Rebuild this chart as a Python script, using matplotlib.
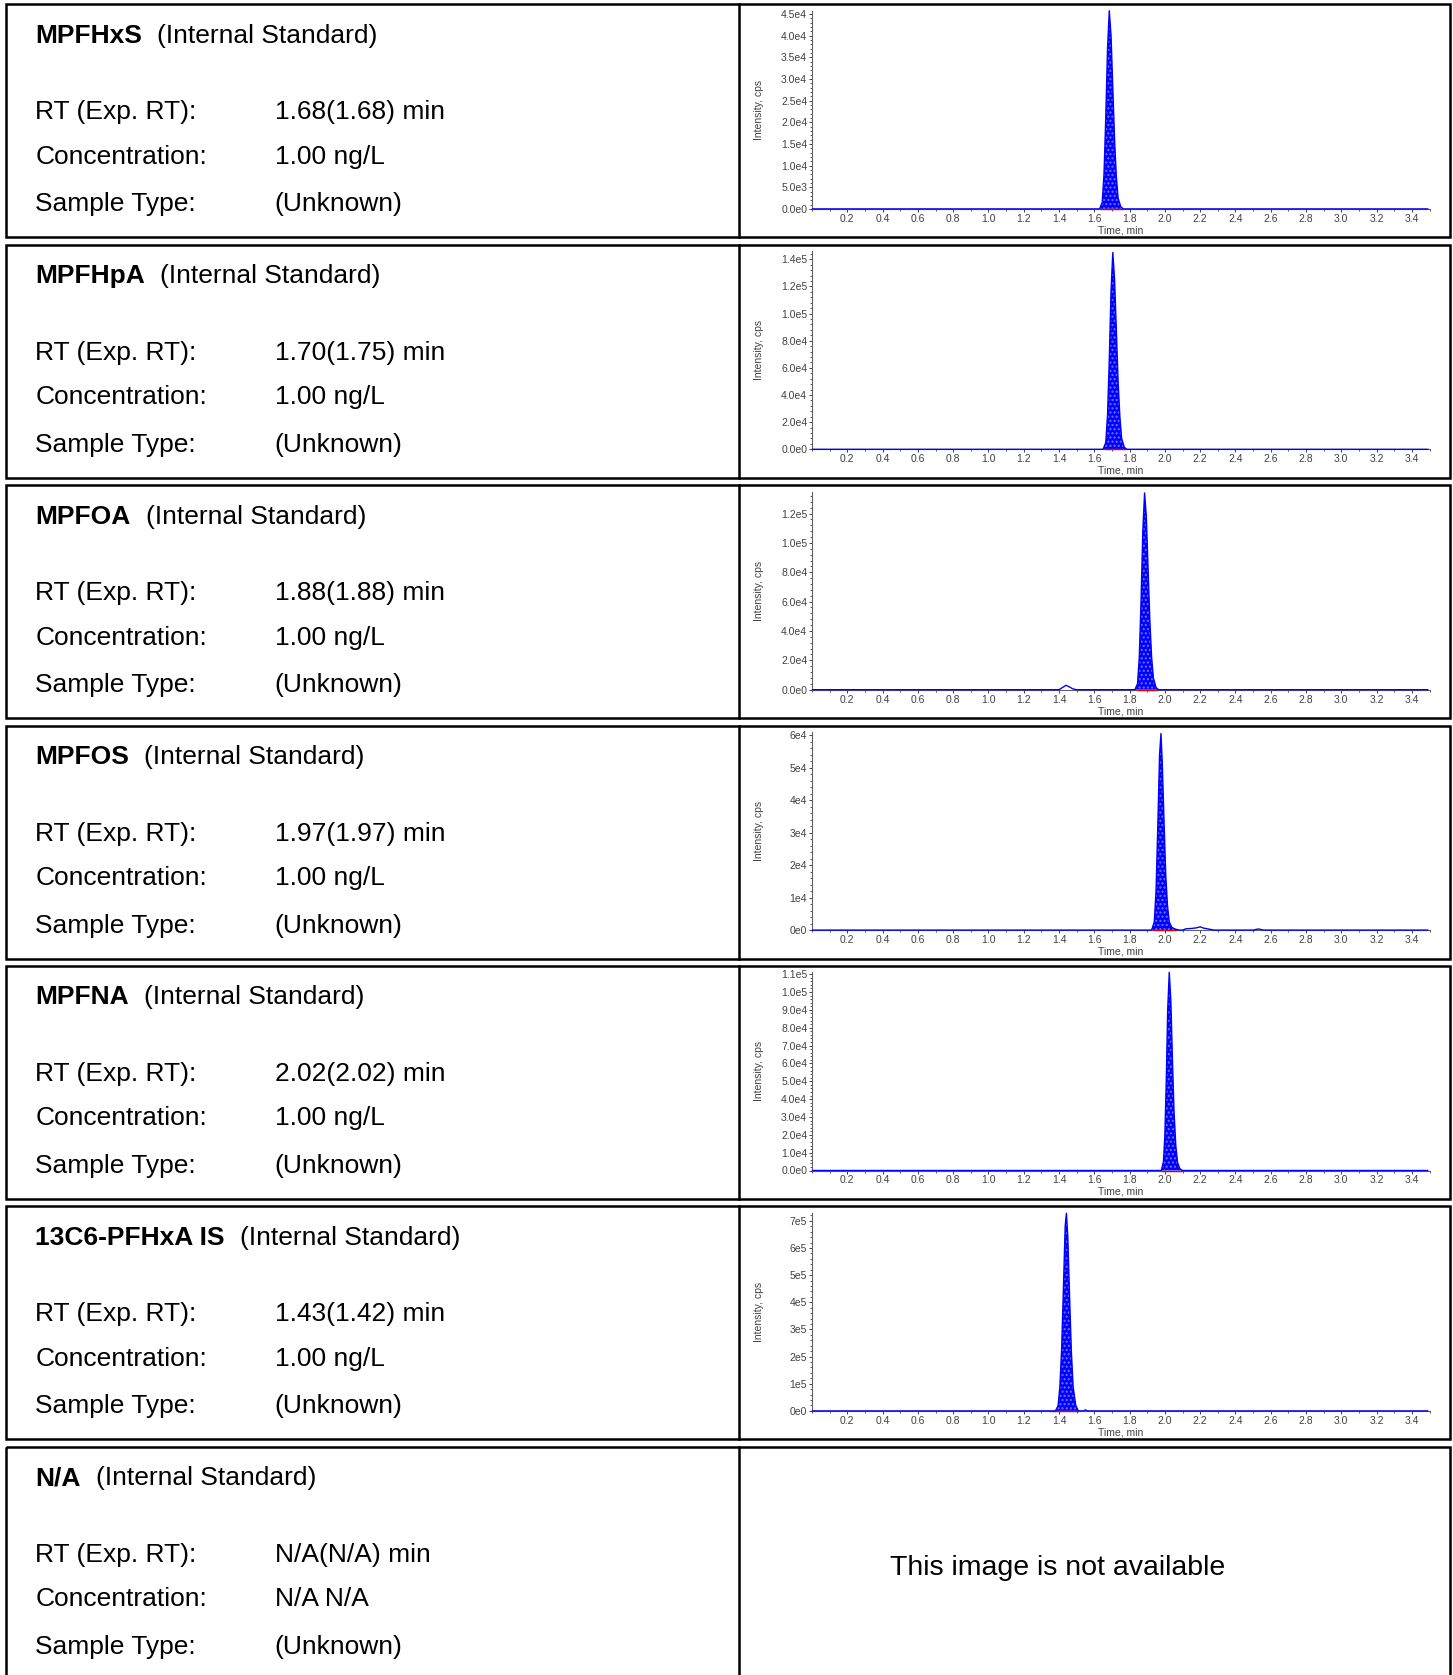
import matplotlib
matplotlib.use('Agg')
import matplotlib.pyplot as plt
from matplotlib import font_manager
from matplotlib.patches import Rectangle
from matplotlib.ticker import AutoMinorLocator, MultipleLocator
import numpy as np

plt.rcParams['font.family'] = ['Liberation Sans', 'DejaVu Sans']

# narrow font for the small chart texts if it is there
font_names = {f.name for f in font_manager.fontManager.ttflist}
small_font = 'Liberation Sans Narrow' if 'Liberation Sans Narrow' in font_names else 'Liberation Sans'

# report table
compounds = ['MPFHxS', 'MPFHpA', 'MPFOA', 'MPFOS', 'MPFNA', '13C6-PFHxA IS', 'N/A']
rt_values = ['1.68(1.68) min', '1.70(1.75) min', '1.88(1.88) min', '1.97(1.97) min',
             '2.02(2.02) min', '1.43(1.42) min', 'N/A(N/A) min']
conc_values = ['1.00 ng/L', '1.00 ng/L', '1.00 ng/L', '1.00 ng/L', '1.00 ng/L', '1.00 ng/L', 'N/A N/A']
sample_types = ['(Unknown)'] * 7

time_ticks = [0.2, 0.4, 0.6, 0.8, 1.0, 1.2, 1.4, 1.6, 1.8, 2.0, 2.2, 2.4, 2.6, 2.8, 3.0, 3.2, 3.4]

# chromatograms, time (min) / intensity (cps)
mpfhxs_t = [0.003, 1.630, 1.645, 1.655, 1.665, 1.675, 1.685, 1.695, 1.705, 1.715, 1.725, 1.735, 1.750, 1.765, 3.49]
mpfhxs_y = [0, 0, 1500, 8000, 21000, 37000, 45800, 40000, 28000, 16000, 7500, 2500, 500, 0, 0]

mpfhpa_t = [0.003, 1.650, 1.665, 1.675, 1.685, 1.695, 1.705, 1.715, 1.725, 1.735, 1.745, 1.755, 1.770, 1.785, 3.49]
mpfhpa_y = [0, 0, 5000, 25000, 66000, 117000, 145000, 125000, 88000, 50000, 24000, 8000, 1500, 0, 0]

mpfoa_t = [0.003, 1.40, 1.42, 1.44, 1.46, 1.48, 1.50, 1.830, 1.845, 1.855, 1.865, 1.875, 1.885, 1.895,
           1.905, 1.915, 1.925, 1.935, 1.950, 1.965, 3.49]
mpfoa_y = [0, 0, 1500, 3000, 1800, 500, 0, 0, 4000, 22000, 60000, 108000, 134000, 118000,
           82000, 47000, 22000, 8000, 1500, 0, 0]

mpfos_t = [0.003, 1.925, 1.940, 1.950, 1.960, 1.970, 1.978, 1.985, 1.995, 2.005, 2.015, 2.025, 2.040, 2.060,
           2.080, 2.10, 2.12, 2.15, 2.18, 2.20, 2.22, 2.25, 2.28, 2.50, 2.53, 2.56, 3.49]
mpfos_y = [0, 0, 2500, 12000, 32000, 54000, 60500, 52000, 34000, 17000, 7500, 2500, 800, 300,
           0, 0, 400, 500, 700, 1000, 600, 300, 0, 0, 350, 0, 0]

mpfna_t = [0.003, 1.980, 1.992, 2.000, 2.008, 2.016, 2.025, 2.034, 2.043, 2.052, 2.062, 2.072, 2.085, 2.100, 3.49]
mpfna_y = [0, 0, 5000, 20000, 50000, 90000, 111000, 95000, 62000, 33000, 14000, 4500, 1000, 0, 0]

pfhxa_t = [0.003, 1.380, 1.395, 1.405, 1.415, 1.425, 1.435, 1.442, 1.450, 1.460, 1.470, 1.480, 1.495, 1.510,
           1.540, 1.550, 1.560, 3.49]
pfhxa_y = [0, 0, 20000, 90000, 230000, 450000, 680000, 728000, 640000, 420000, 220000, 90000, 20000, 0,
           0, 4000, 0, 0]

traces_t = [mpfhxs_t, mpfhpa_t, mpfoa_t, mpfos_t, mpfna_t, pfhxa_t]
traces_y = [mpfhxs_y, mpfhpa_y, mpfoa_y, mpfos_y, mpfna_y, pfhxa_y]

# integrated window and drawn baseline of each peak
peak_windows = [(1.630, 1.765), (1.650, 1.785), (1.830, 1.965), (1.925, 2.080), (1.980, 2.100), (1.380, 1.510)]
red_baselines = [(1.64, 1.755), (1.66, 1.775), (1.84, 1.955), (1.93, 2.065), (1.985, 2.095), (1.35, 1.51)]

y_tick_labels = [
    ['0.0e0', '5.0e3', '1.0e4', '1.5e4', '2.0e4', '2.5e4', '3.0e4', '3.5e4', '4.0e4', '4.5e4'],
    ['0.0e0', '2.0e4', '4.0e4', '6.0e4', '8.0e4', '1.0e5', '1.2e5', '1.4e5'],
    ['0.0e0', '2.0e4', '4.0e4', '6.0e4', '8.0e4', '1.0e5', '1.2e5'],
    ['0e0', '1e4', '2e4', '3e4', '4e4', '5e4', '6e4'],
    ['0.0e0', '1.0e4', '2.0e4', '3.0e4', '4.0e4', '5.0e4', '6.0e4', '7.0e4', '8.0e4', '9.0e4', '1.0e5', '1.1e5'],
    ['0e0', '1e5', '2e5', '3e5', '4e5', '5e5', '6e5', '7e5'],
]
y_max = [45800, 146000, 135000, 61000, 111000, 730000]

# page layout in pixels
W, H = 1453, 1675
row_top0 = 4.3
row_pitch = 240.4
box_h = 233
ax_left, ax_right = 812, 1429.5
tick_color = '#404040'


def draw_chromatogram(ax, t, y, window, baseline, ylabels, ymax):
    t = np.array(t)
    y = np.array(y)
    ax.set_xlim(0, 3.5)
    ax.set_ylim(0, ymax)
    mask = (t >= window[0]) & (t <= window[1])
    ax.fill_between(t, y, where=mask, facecolor='#0000ff', edgecolor='#7070ff',
                    hatch='....', linewidth=0, zorder=2)
    ax.plot(baseline, [0, 0], color='#e00000', lw=1.0, zorder=3, clip_on=False)
    ax.plot(t, y, color='#0000ff', lw=1.0, zorder=4, clip_on=False)

    ax.set_xticks(time_ticks, labels=[f'{v:.1f}' for v in time_ticks])
    ax.xaxis.set_minor_locator(MultipleLocator(0.1))
    ax.set_yticks([float(s) for s in ylabels], labels=ylabels)
    ax.yaxis.set_minor_locator(AutoMinorLocator(5))
    ax.tick_params(which='major', length=2.5, width=0.7, color=tick_color, labelcolor=tick_color,
                   labelsize=7.5, pad=1, labelfontfamily=small_font)
    ax.tick_params(which='minor', length=1.5, width=0.6, color=tick_color)
    for s in ['top', 'right']:
        ax.spines[s].set_visible(False)
    for s in ['left', 'bottom']:
        ax.spines[s].set_color('#606060')
        ax.spines[s].set_linewidth(0.8)
    ax.set_xlabel('Time, min', fontsize=7.5, color=tick_color, family=small_font)
    ax.xaxis.set_label_coords(0.5, -0.083)
    ax.set_ylabel('Intensity, cps', fontsize=7.5, color=tick_color, family=small_font)
    ax.yaxis.set_label_coords(-0.077, 0.5)


fig = plt.figure(figsize=(W / 100, H / 100), dpi=100)
bg = fig.add_axes([0, 0, 1, 1])
bg.set_xlim(0, W)
bg.set_ylim(H, 0)
bg.axis('off')

for i, name in enumerate(compounds):
    top = row_top0 + i * row_pitch
    last = i == len(compounds) - 1
    # table box, the last one runs off the page
    bg.add_patch(Rectangle((5.5, top), 1444, box_h if not last else 400, fill=False, lw=1.8, ec='black'))
    bg.plot([738.5, 738.5], [top, top + (box_h if not last else 400)], color='black', lw=1.8)

    title = bg.text(35.3, top + 31.5, name, fontsize=19, fontweight='bold', va='center')
    bg.annotate('(Internal Standard)', xy=(1, 0.5), xycoords=title, xytext=(11, 0),
                textcoords='offset points', fontsize=19, va='center')
    rows = [('RT (Exp. RT):', rt_values[i], 108), ('Concentration:', conc_values[i], 152.5),
            ('Sample Type:', sample_types[i], 200)]
    for label, value, dy in rows:
        bg.text(35.3, top + dy, label, fontsize=19, va='center')
        bg.text(274.6, top + dy, value, fontsize=19, va='center')

    if last:
        bg.text(1057.7, top + 121.5, 'This image is not available', fontsize=20.5,
                family=small_font, ha='center', va='center')
        continue

    ax_top = top + 6.4
    ax_bottom = top + 204.6
    ax = fig.add_axes([ax_left / W, 1 - ax_bottom / H, (ax_right - ax_left) / W, (ax_bottom - ax_top) / H])
    draw_chromatogram(ax, traces_t[i], traces_y[i], peak_windows[i], red_baselines[i],
                      y_tick_labels[i], y_max[i])

fig.savefig('out.png', dpi=100)
